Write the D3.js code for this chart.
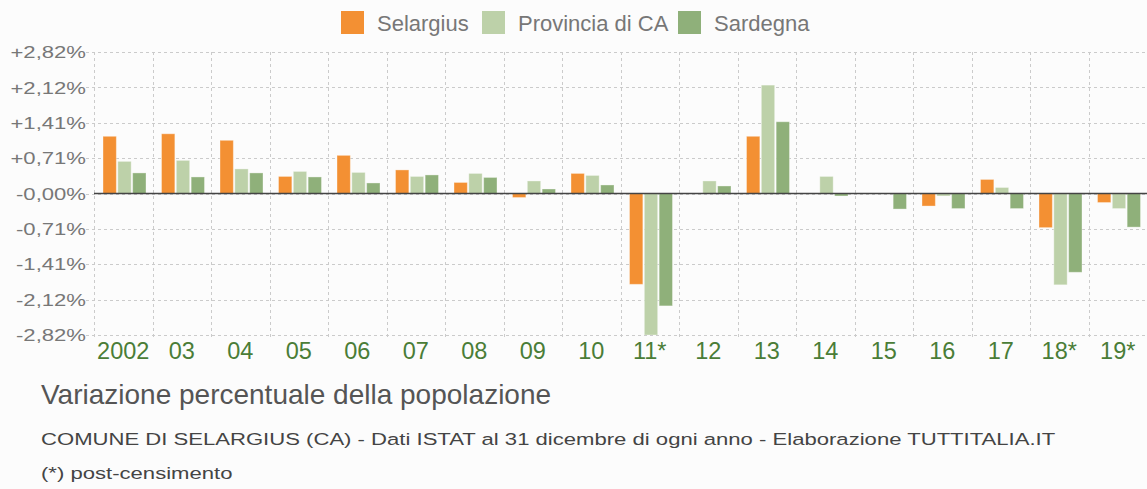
<!DOCTYPE html>
<html>
<head>
<meta charset="utf-8">
<script src="https://cdn.jsdelivr.net/npm/d3@7"></script>
<style>
  html, body { margin: 0; padding: 0; background: #fcfcfc; }
  svg { display: block; font-family: "Liberation Sans", Arial, sans-serif; }
</style>
</head>
<body>
<svg id="chart" width="1147" height="489"></svg>
<script>
// anni (* = post-censimento)
var years = ["2002", "03", "04", "05", "06", "07", "08", "09", "10", "11*",
             "12", "13", "14", "15", "16", "17", "18*", "19*"];

// variazione percentuale della popolazione
var selargius = [1.14, 1.19, 1.06, 0.34, 0.76, 0.47, 0.22, -0.08, 0.40, -1.81,
                 0, 1.14, 0, 0, -0.25, 0.28, -0.68, -0.18];
var provincia = [0.64, 0.66, 0.49, 0.44, 0.42, 0.34, 0.40, 0.25, 0.36, -2.82,
                 0.25, 2.16, 0.34, 0, -0.05, 0.12, -1.82, -0.30];
var sardegna = [0.41, 0.33, 0.41, 0.33, 0.21, 0.37, 0.32, 0.09, 0.17, -2.24,
                0.15, 1.43, -0.05, -0.31, -0.30, -0.30, -1.57, -0.67];

var seriesNames = ["Selargius", "Provincia di CA", "Sardegna"];
var seriesColors = ["#f39033", "#bdd1a9", "#8fb07a"];

var yTickValues = [2.82, 2.115, 1.41, 0.705, 0, -0.705, -1.41, -2.115, -2.82];
var yTickLabels = ["+2,82%", "+2,12%", "+1,41%", "+0,71%", "-0,00%",
                   "-0,71%", "-1,41%", "-2,12%", "-2,82%"];

var svg = d3.select("#chart");
var plotLeft = 94, plotRight = 1147, plotTop = 52, plotBottom = 335;
var stretch = 1.3; // il testo dell'originale e' piu' largo del Liberation Sans

var data = years.map(function(y, i) {
  return { year: y, values: [selargius[i], provincia[i], sardegna[i]] };
});

var x0 = d3.scaleBand().domain(years).range([plotLeft, plotRight]);
var x1 = d3.scaleBand().domain(d3.range(3)).range([9, 52]).paddingInner(0.1);
var y = d3.scaleLinear().domain([-2.82, 2.82]).range([plotBottom, plotTop]);

svg.append("defs").append("clipPath")
    .attr("id", "plot-clip")
  .append("rect")
    .attr("x", plotLeft).attr("y", plotTop)
    .attr("width", plotRight - plotLeft).attr("height", plotBottom - plotTop);

// griglia orizzontale
svg.append("g")
    .selectAll("line")
    .data(yTickValues)
    .enter().append("line")
      .attr("x1", plotLeft - 8)
      .attr("x2", plotRight)
      .attr("y1", d => Math.round(y(d)) + 0.5)
      .attr("y2", d => Math.round(y(d)) + 0.5)
      .attr("stroke", "#cbcbcb")
      .attr("stroke-width", 1)
      .attr("stroke-dasharray", "3,3");

// griglia verticale
svg.append("g")
    .selectAll("line")
    .data(years)
    .enter().append("line")
      .attr("x1", d => Math.round(x0(d)) + 0.5)
      .attr("x2", d => Math.round(x0(d)) + 0.5)
      .attr("y1", plotTop)
      .attr("y2", plotBottom + 4)
      .attr("stroke", "#cbcbcb")
      .attr("stroke-width", 1)
      .attr("stroke-dasharray", "3,3");

// etichette asse y
svg.append("g")
    .selectAll("text")
    .data(yTickValues)
    .enter().append("text")
      .attr("transform", d => "translate(86," + y(d) + ") scale(" + stretch + ",1)")
      .attr("dy", "0.36em")
      .attr("text-anchor", "end")
      .attr("font-size", 17)
      .attr("fill", "#777")
      .text((d, i) => yTickLabels[i]);

// barre
var groups = svg.append("g")
    .attr("clip-path", "url(#plot-clip)")
    .selectAll("g")
    .data(data)
    .enter().append("g")
      .attr("transform", d => "translate(" + x0(d.year) + ",0)");

groups.selectAll("rect")
    .data(d => d.values)
    .enter().append("rect")
      .attr("x", (d, i) => x1(i))
      .attr("width", x1.bandwidth())
      .attr("y", d => y(Math.max(0, d)))
      .attr("height", d => Math.abs(y(d) - y(0)))
      .attr("fill", (d, i) => seriesColors[i])
      .attr("stroke", "rgba(255,255,255,0.35)")
      .attr("stroke-width", 1);

// linea dello zero
svg.append("line")
    .attr("x1", plotLeft)
    .attr("x2", plotRight)
    .attr("y1", y(0))
    .attr("y2", y(0))
    .attr("stroke", "#444")
    .attr("stroke-width", 1.5);

// etichette asse x
svg.append("g")
    .selectAll("text")
    .data(years)
    .enter().append("text")
      .attr("x", d => x0(d) + x0.bandwidth() / 2)
      .attr("y", 359)
      .attr("text-anchor", "middle")
      .attr("font-size", 23.5)
      .attr("fill", "#4a7d37")
      .text(d => d);

// legenda
var legendX = [341, 482, 678];
var legend = svg.append("g")
    .selectAll("g")
    .data(seriesNames)
    .enter().append("g")
      .attr("transform", (d, i) => "translate(" + legendX[i] + ",11)");

legend.append("rect")
    .attr("width", 23)
    .attr("height", 23)
    .attr("fill", (d, i) => seriesColors[i]);

legend.append("text")
    .attr("x", 36)
    .attr("y", 12)
    .attr("dy", "0.36em")
    .attr("font-size", 22)
    .attr("fill", "#777")
    .text(d => d);

// titoli in basso
svg.append("text")
    .attr("x", 41)
    .attr("y", 404)
    .attr("font-size", 28)
    .attr("fill", "#555")
    .text("Variazione percentuale della popolazione");

svg.append("text")
    .attr("transform", "translate(41,445) scale(" + stretch + ",1)")
    .attr("font-size", 17)
    .attr("fill", "#444")
    .text("COMUNE DI SELARGIUS (CA) - Dati ISTAT al 31 dicembre di ogni anno - Elaborazione TUTTITALIA.IT");

svg.append("text")
    .attr("transform", "translate(41,479) scale(" + stretch + ",1)")
    .attr("font-size", 17)
    .attr("fill", "#444")
    .text("(*) post-censimento");
</script>
</body>
</html>
